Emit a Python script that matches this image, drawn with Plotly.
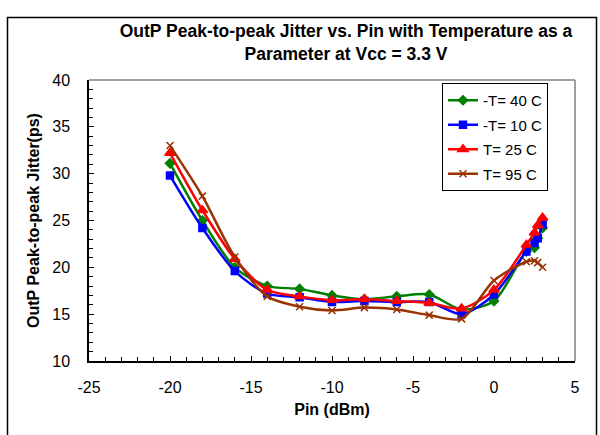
import plotly.graph_objects as go

pin = [-20, -18, -16, -14, -12, -10, -8, -6, -4, -2, 0, 2, 2.5, 2.7, 3]
series_names = ["-T= 40 C", "-T= 10 C", "T= 25 C", "T= 95 C"]
jit_m40 = [31.1, 25.0, 20.0, 18.0, 17.7, 17.0, 16.6, 16.9, 17.1, 15.5, 16.4, 21.7, 22.1, 23.1, 24.2]
jit_m10 = [29.8, 24.2, 19.6, 17.2, 16.8, 16.3, 16.4, 16.3, 16.3, 15.0, 17.1, 21.7, 22.6, 23.1, 24.6]
jit_25 = [32.2, 26.1, 20.9, 17.6, 16.9, 16.5, 16.6, 16.4, 16.2, 15.6, 17.6, 22.4, 23.7, 24.5, 25.3]
jit_95 = [33.0, 27.6, 21.1, 16.9, 15.8, 15.4, 15.7, 15.5, 14.9, 14.5, 18.6, 20.6, 20.7, 20.5, 20.0]

x_ticks = [-25, -20, -15, -10, -5, 0, 5]
y_ticks = [10, 15, 20, 25, 30, 35, 40]

colors = ["#008000", "#0000FF", "#FF0000", "#993300"]
symbols = ["diamond", "square", "triangle-up", "x-thin"]
msizes = [7, 7, 9, 7]
values = [jit_m40, jit_m10, jit_25, jit_95]

fig = go.Figure()
for i, (name, vals) in enumerate(zip(series_names, values)):
    fig.add_trace(go.Scatter(
        x=pin, y=vals, name=name, mode="lines+markers",
        line=dict(color=colors[i], width=2.5, shape="spline", smoothing=0.8),
        marker=dict(symbol=symbols[i], size=msizes[i], color=colors[i],
                    line=dict(color=colors[i], width=1.5)),
        legendgroup=str(i),
    ))

L, R, T, B = 89, 25, 80, 74
W, H = 600, 435
pw, ph = W - L - R, H - T - B

def px(x):
    return (x - L) / pw

def py(y):
    return (H - B - y) / ph

fig.update_layout(
    width=W, height=H,
    margin=dict(l=L, r=R, t=T, b=B),
    paper_bgcolor="white", plot_bgcolor="white",
    font=dict(family="Liberation Sans, Arial", color="black"),
    title=dict(
        text="<b>OutP Peak-to-peak Jitter vs. Pin with Temperature as a<br>Parameter at Vcc = 3.3 V</b>",
        xref="container", x=346 / W, xanchor="center",
        yref="container", y=1 - 37 / H, yanchor="middle",
        font=dict(size=17.5, family="Liberation Sans, Arial"),
    ),
    showlegend=True,
    legend=dict(
        x=px(442), y=py(83), xanchor="left", yanchor="top",
        bgcolor="white", bordercolor="black", borderwidth=1,
        font=dict(size=15), tracegroupgap=2, itemwidth=30,
    ),
    xaxis=dict(
        range=[-25, 5], tickvals=x_ticks, ticktext=[str(v) for v in x_ticks],
        ticks="inside", ticklen=5, tickcolor="black", tickwidth=1,
        minor=dict(dtick=1, ticks="inside", ticklen=4, tickcolor="black"),
        showline=True, linecolor="black", linewidth=1.5,
        showgrid=False, zeroline=False,
        tickfont=dict(size=16), ticklabelstandoff=11,
        title=dict(text="<b>Pin (dBm)</b>", font=dict(size=16), standoff=9),
    ),
    yaxis=dict(
        range=[10, 40], tickvals=y_ticks, ticktext=[str(v) for v in y_ticks],
        ticks="inside", ticklen=5, tickcolor="black", tickwidth=1,
        minor=dict(dtick=1, ticks="inside", ticklen=4, tickcolor="black"),
        showline=True, linecolor="black", linewidth=1.5,
        showgrid=False, zeroline=False,
        tickfont=dict(size=16), ticklabelstandoff=14,
        title=dict(text="<b>OutP Peak-to-peak Jitter(ps)</b>", font=dict(size=16), standoff=9),
    ),
    shapes=[
        dict(type="line", xref="paper", yref="paper", x0=0, x1=1, y0=1, y1=1,
             line=dict(color="#808080", width=1.5)),
        dict(type="line", xref="paper", yref="paper", x0=1, x1=1, y0=0, y1=1,
             line=dict(color="#808080", width=1.5)),
        dict(type="rect", xref="paper", yref="paper", x0=px(7.5), x1=px(596.5),
             y0=py(436), y1=py(17.5), line=dict(color="black", width=1.5),
             fillcolor="rgba(0,0,0,0)", layer="below"),
    ],
)

fig.write_html("out.html")
